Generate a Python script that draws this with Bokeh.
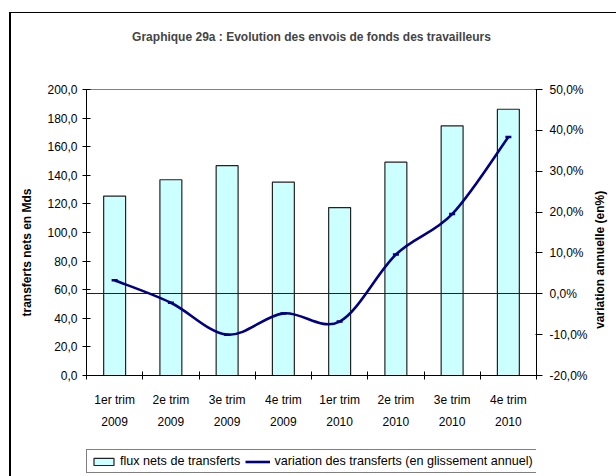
import numpy as np
from bokeh.plotting import figure
from bokeh.layouts import column
from bokeh.models import (Range1d, LinearAxis, FixedTicker, Legend, LegendItem,
                          ColumnDataSource, Title)
from bokeh.embed import file_html
from bokeh.resources import INLINE

# ---- data ----
categories = ["1er trim\n2009", "2e trim\n2009", "3e trim\n2009", "4e trim\n2009",
              "1er trim\n2010", "2e trim\n2010", "3e trim\n2010", "4e trim\n2010"]
flux = [125.5, 136.9, 146.7, 135.2, 117.4, 149.2, 174.6, 186.2]
variation = [3.3, -2.2, -10.0, -4.8, -6.8, 9.6, 19.5, 38.4]
left_ticks = [0, 20, 40, 60, 80, 100, 120, 140, 160, 180, 200]
left_labels = ["0,0", "20,0", "40,0", "60,0", "80,0", "100,0", "120,0", "140,0", "160,0", "180,0", "200,0"]
right_ticks = [-20, -10, 0, 10, 20, 30, 40, 50]
right_labels = ["-20,0%", "-10,0%", "0,0%", "10,0%", "20,0%", "30,0%", "40,0%", "50,0%"]
title_text = "Graphique 29a : Evolution des envois de fonds des travailleurs"
left_title = "transferts nets en Mds"
right_title = "variation annuelle (en%)"
bar_label = "flux nets de transferts"
line_label = "variation des transferts (en glissement annuel)"

FONT = "Liberation Sans"
NAVY = "#000080"
CYAN = "#CCFFFF"
NBSP = "\u00a0"

n = len(categories)
xc = [i + 0.5 for i in range(n)]

border_css = """
:host::after {
  content: ""; position: absolute; left: 9px; top: 12px; right: 0px; bottom: 0px;
  border-left: 2px solid #000; border-top: 1.5px solid #000; pointer-events: none;
}
"""

p = figure(width=616, height=445, output_backend="svg", toolbar_location=None,
           x_range=Range1d(0, n), y_range=Range1d(left_ticks[0], left_ticks[-1]),
           min_border_left=86, min_border_right=76, min_border_top=89, min_border_bottom=70,
           x_axis_location=None, y_axis_location=None)
p.grid.visible = False
p.outline_line_color = "#808080"
p.outline_line_width = 1
p.background_fill_color = "white"
p.border_fill_color = "white"
p.extra_y_ranges = {"pct": Range1d(right_ticks[0], right_ticks[-1])}

# title (a blank spacer title keeps it at the right height)
p.add_layout(Title(text=" ", text_font=FONT, text_font_size="12px", standoff=25), "above")
p.add_layout(Title(text=title_text, align="center", text_font=FONT, text_font_size="12px",
                   text_font_style="bold", standoff=10), "above")

# axes
yl = LinearAxis(ticker=FixedTicker(ticks=left_ticks),
                major_label_overrides={t: l for t, l in zip(left_ticks, left_labels)})
yr = LinearAxis(y_range_name="pct", ticker=FixedTicker(ticks=right_ticks),
                major_label_overrides={t: l for t, l in zip(right_ticks, right_labels)})
xa = LinearAxis(ticker=FixedTicker(ticks=xc, minor_ticks=list(range(n + 1))),
                major_label_overrides={x: c for x, c in zip(xc, categories)})
for ax in (yl, yr, xa):
    ax.axis_line_color = "black"
    ax.major_tick_line_color = "black"
    ax.minor_tick_line_color = "black"
    ax.major_label_text_font = FONT
    ax.major_label_text_font_size = "12px"
    ax.major_label_text_color = "black"
    ax.axis_label_text_font = FONT
    ax.axis_label_text_font_size = "12px"
    ax.axis_label_text_font_style = "bold"
    ax.axis_label_text_color = "black"
yl.major_tick_in = 4
yl.major_tick_out = 4
yl.minor_tick_in = 0
yl.minor_tick_out = 0
yl.major_label_standoff = 5
# trailing no-break spaces lower the visible text a little along the axis
yl.axis_label = left_title + NBSP * 12
yl.axis_label_standoff = 10
yr.major_tick_in = 1
yr.major_tick_out = 6
yr.minor_tick_in = 0
yr.minor_tick_out = 0
yr.major_label_standoff = 7
yr.axis_label_orientation = np.pi / 2
yr.axis_label_standoff = 9
if "axis_label_align" in yr.properties():
    # start the (upward reading) label near the bottom of the axis
    yr.axis_label_align = "start"
    yr.axis_label = NBSP * 14 + right_title
else:
    yr.axis_label = right_title
xa.major_tick_in = 0
xa.major_tick_out = 0
xa.minor_tick_in = 4
xa.minor_tick_out = 4
xa.major_label_standoff = 13
xa.major_label_text_line_height = 1.6
p.add_layout(yl, "left")
p.add_layout(yr, "right")
p.add_layout(xa, "below")

# bars
src = ColumnDataSource(dict(x=xc, top=flux))
p.vbar(x="x", top="top", bottom=0, width=0.39, source=src,
       fill_color=CYAN, line_color="#222222", line_width=1.2)

# zero line of secondary axis
p.hspan(y=[0], y_range_name="pct", line_color="#222222", line_width=1.2)

# smoothed line (Bezier segments through the data points)
X = np.array(xc, dtype=float)
Y = np.array(variation, dtype=float)
Xp = np.concatenate([[X[0]], X, [X[-1]]])
Yp = np.concatenate([[Y[0]], Y, [Y[-1]]])
x0, y0 = X[:-1], Y[:-1]
x1, y1 = X[1:], Y[1:]
cx0 = x0 + (Xp[2:-1] - Xp[:-3]) / 6.0
cy0 = y0 + (Yp[2:-1] - Yp[:-3]) / 6.0
cx1 = x1 - (Xp[3:] - Xp[1:-2]) / 6.0
cy1 = y1 - (Yp[3:] - Yp[1:-2]) / 6.0
p.bezier(x0=x0, y0=y0, x1=x1, y1=y1, cx0=cx0, cy0=cy0, cx1=cx1, cy1=cy1,
         y_range_name="pct", line_color=NAVY, line_width=2.6)
p.scatter(x=xc, y=variation, y_range_name="pct", marker="dash", size=6,
          line_color=NAVY, line_width=2.5)

# legend strip (separate small figure under the chart; its renderers are hidden)
lg = figure(width=616, height=31, output_backend="svg", toolbar_location=None,
            x_range=Range1d(0, n), y_range=Range1d(left_ticks[0], left_ticks[-1]),
            min_border_left=0, min_border_right=0, min_border_top=0, min_border_bottom=0,
            x_axis_location=None, y_axis_location=None)
lg.grid.visible = False
lg.outline_line_color = None
lg.background_fill_color = "white"
lg.border_fill_color = "white"
r_bar = lg.vbar(x=xc, top=flux, width=0.39, fill_color=CYAN, line_color="#222222",
                line_width=1.2, visible=False)
r_line = lg.line(x=xc, y=flux, line_color=NAVY, line_width=2.6, visible=False)
legend = Legend(items=[LegendItem(label=bar_label, renderers=[r_bar]),
                       LegendItem(label=line_label, renderers=[r_line])],
                orientation="horizontal", location=(0, 3),
                glyph_width=25, glyph_height=9, label_height=14, label_width=10,
                label_standoff=4, spacing=5, padding=4, margin=0,
                label_text_font=FONT, label_text_font_size="12.6px", label_text_color="black",
                border_line_color="black", border_line_width=1,
                background_fill_color="white", background_fill_alpha=1)
lg.add_layout(legend, "center")

layout = column(p, lg, spacing=0, stylesheets=[border_css])
open("out.html", "w").write(file_html(layout, INLINE))
